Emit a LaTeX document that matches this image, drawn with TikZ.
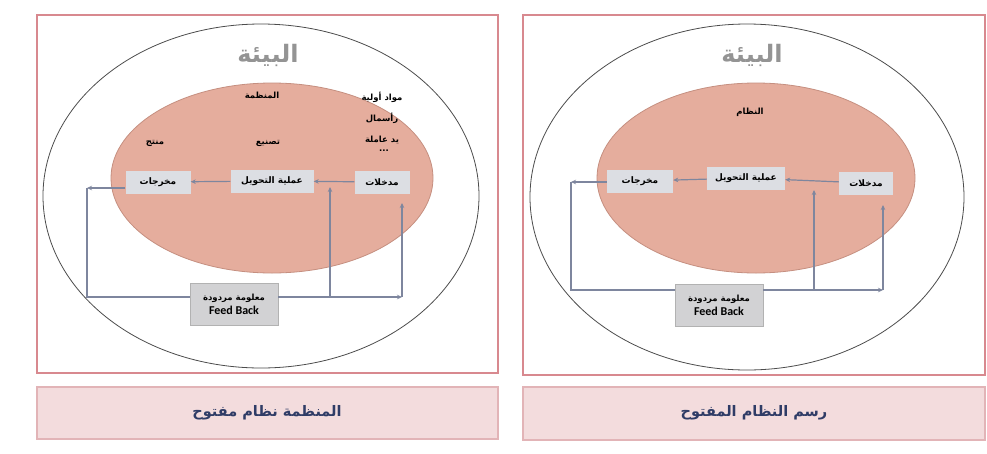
\documentclass[tikz,border=0pt]{standalone}
\usepackage{fontspec}
\setmainfont{Carlito}
\newfontfamily\arabicfont[Script=Arabic]{DejaVu Sans}
\TeXXeTstate=1
\definecolor{framepink}{HTML}{D8898F}
\definecolor{titlefill}{HTML}{F3DCDD}
\definecolor{titledraw}{HTML}{E2B4B7}
\definecolor{titletext}{HTML}{2F3C66}
\definecolor{orgfill}{HTML}{E5AD9D}
\definecolor{orgdraw}{HTML}{C58F80}
\definecolor{boxgrey}{HTML}{DCDEE3}
\definecolor{fbgrey}{HTML}{D2D2D4}
\definecolor{flowline}{HTML}{7E869E}
\usetikzlibrary{arrows.meta}

\begin{document}
\begin{tikzpicture}[x=1pt, y=-1pt, >={Stealth[length=5pt, width=4.5pt]}]
				\tikzstyle{every node}=[inner sep=1pt, align=center]
				\tikzstyle{panel}=[draw=framepink, line width=2pt]
				\tikzstyle{titlebar}=[fill=titlefill, draw=titledraw, line width=1.5pt]
				\tikzstyle{titletxt}=[text=titletext, font=\arabicfont\bfseries\fontsize{14.5}{17}\selectfont]
				\tikzstyle{envtxt}=[text=black!42, font=\arabicfont\bfseries\fontsize{24}{28}\selectfont]
				\tikzstyle{smalltxt}=[font=\arabicfont\bfseries\fontsize{8.5}{10}\selectfont]
				\tikzstyle{stepbox}=[fill=boxgrey, minimum height=23pt, font=\arabicfont\bfseries\fontsize{9}{11}\selectfont]
				\tikzstyle{fbbox}=[fill=fbgrey, draw=black!30, minimum width=88pt, minimum height=42pt, font=\bfseries\fontsize{12}{14}\selectfont]
				\tikzstyle{flow}=[draw=flowline, line width=1.2pt]
				\useasboundingbox (0,0) rectangle (987,453);
				\fill[white] (0,0) rectangle (987,453);
				% left panel
				\draw[panel] (37,15) rectangle (498,373);
				\draw[titlebar] (37,387) rectangle (498,439);
				\node[titletxt] (titleL) at (267,413) {\beginR المنظمة نظام مفتوح\endR};
				\draw[black!70, line width=0.8pt] (261,196) ellipse (218 and 172);
				\draw[orgdraw, fill=orgfill, line width=0.8pt] (272,178) ellipse (161 and 95);
				\node[envtxt] (envL) at (268,55) {\beginR البيئة\endR};
				\node[smalltxt] (orgL) at (262,95) {\beginR المنظمة\endR};
				\node[smalltxt] (rawL) at (382,97) {\beginR مواد أولية\endR};
				\node[smalltxt] (capL) at (382,118) {\beginR رأسمال\endR};
				\node[smalltxt] (labL) at (382,140) {\beginR يد عاملة\endR};
				\node[smalltxt] (dotsL) at (384,151) {...};
				\node[smalltxt] (prodL) at (155,143) {\beginR منتج\endR};
				\node[smalltxt] (mfgL) at (268,143) {\beginR تصنيع\endR};
				\node[stepbox, minimum width=65pt] (outL) at (158,182) {\beginR مخرجات\endR};
				\node[stepbox, minimum width=83pt] (trL) at (272,181) {\beginR عملية التحويل\endR};
				\node[stepbox, minimum width=55pt] (inL) at (382,182) {\beginR مدخلات\endR};
				\node[fbbox] (fbL) at (234,304) {{\arabicfont\fontsize{8.5}{11}\selectfont\beginR معلومة مردودة\endR}\\Feed Back};
				\coordinate (L1) at (87,188);
				\coordinate (L2) at (87,297);
				\coordinate (M1) at (330,187);
				\coordinate (M2) at (330,297);
				\coordinate (R1) at (402,203);
				\coordinate (R2) at (402,297);
				\draw[flow, ->] (inL) -- (trL);
				\draw[flow, ->] (trL) -- (outL);
				\draw[flow, ->] (outL.west |- L1) -- (L1);
				\draw[flow] (L1) -- (L2) -- (L2 -| fbL.west);
				\draw[flow, ->] (R2 -| fbL.east) -- (R2);
				\draw[flow, ->] (M2) -- (M1);
				\draw[flow, ->] (R2) -- (R1);
				% right panel
				\draw[panel] (523,15) rectangle (985,375);
				\draw[titlebar] (523,387) rectangle (985,440);
				\node[titletxt] (titleR) at (754,413) {\beginR رسم النظام المفتوح\endR};
				\draw[black!70, line width=0.8pt] (747,197) ellipse (217 and 173);
				\draw[orgdraw, fill=orgfill, line width=0.8pt] (756,178) ellipse (159 and 95);
				\node[envtxt] (envR) at (752,55) {\beginR البيئة\endR};
				\node[smalltxt] (sysR) at (750,112) {\beginR النظام\endR};
				\node[stepbox, minimum width=66pt] (outR) at (640,181) {\beginR مخرجات\endR};
				\node[stepbox, minimum width=78pt] (trR) at (746,178) {\beginR عملية التحويل\endR};
				\node[stepbox, minimum width=54pt] (inR) at (866,183) {\beginR مدخلات\endR};
				\node[fbbox] (fbR) at (719,305) {{\arabicfont\fontsize{8.5}{11}\selectfont\beginR معلومة مردودة\endR}\\Feed Back};
				\coordinate (L3) at (571,182);
				\coordinate (L4) at (571,290);
				\coordinate (M3) at (814,190);
				\coordinate (M4) at (814,290);
				\coordinate (R3) at (883,205);
				\coordinate (R4) at (883,290);
				\draw[flow, ->] (inR) -- (trR);
				\draw[flow, ->] (trR) -- (outR);
				\draw[flow, ->] (outR.west |- L3) -- (L3);
				\draw[flow] (L3) -- (L4) -- (L4 -| fbR.west);
				\draw[flow, ->] (R4 -| fbR.east) -- (R4);
				\draw[flow, ->] (M4) -- (M3);
				\draw[flow, ->] (R4) -- (R3);
		\end{tikzpicture}
\end{document}
